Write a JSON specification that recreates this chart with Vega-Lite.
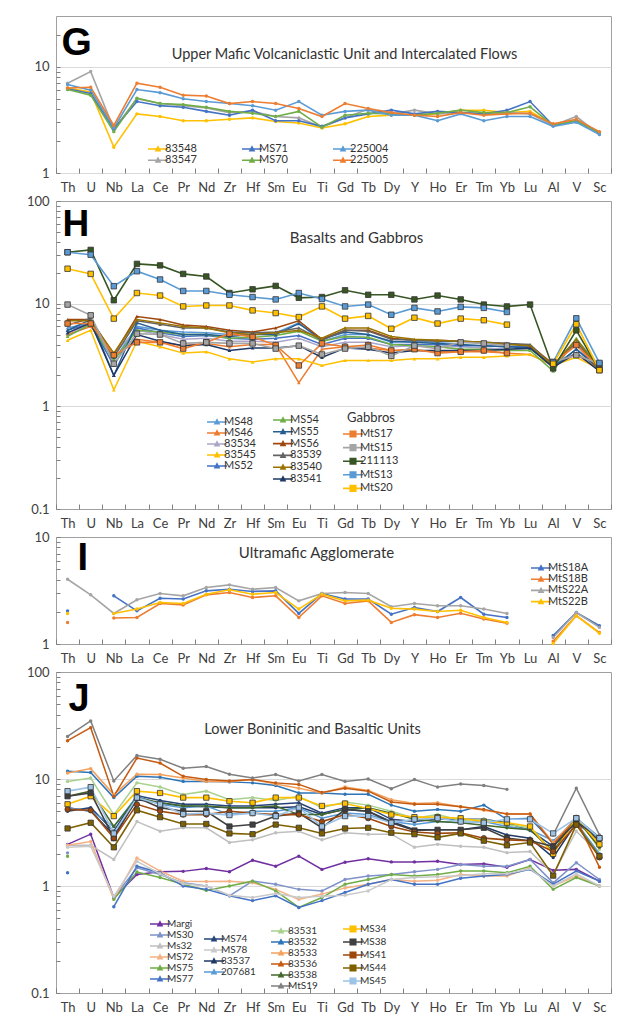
{
"$schema": "https://vega.github.io/schema/vega-lite/v6.json",
"padding": {"left": 25, "top": 15, "right": 5, "bottom": 5},
"autosize": {"type": "pad"},
"background": "white",
"bounds": "flush",
"spacing": 28,
"resolve": {"scale": {"color": "independent", "shape": "independent"}, "legend": {"color": "independent"}},
"datasets": {
"G": [
{"s":"83548","e":"Th","v":6.3},{"s":"83548","e":"U","v":5.8},{"s":"83548","e":"Nb","v":1.75},{"s":"83548","e":"La","v":3.6},{"s":"83548","e":"Ce","v":3.4},{"s":"83548","e":"Pr","v":3.1},{"s":"83548","e":"Nd","v":3.1},{"s":"83548","e":"Zr","v":3.2},{"s":"83548","e":"Hf","v":3.3},{"s":"83548","e":"Sm","v":3.05},{"s":"83548","e":"Eu","v":2.95},{"s":"83548","e":"Ti","v":2.65},{"s":"83548","e":"Gd","v":2.9},{"s":"83548","e":"Tb","v":3.4},{"s":"83548","e":"Dy","v":3.5},{"s":"83548","e":"Y","v":3.5},{"s":"83548","e":"Ho","v":3.6},{"s":"83548","e":"Er","v":3.9},{"s":"83548","e":"Tm","v":3.9},{"s":"83548","e":"Yb","v":3.7},{"s":"83548","e":"Lu","v":3.8},{"s":"83548","e":"Al","v":2.85},{"s":"83548","e":"V","v":3.1},{"s":"83548","e":"Sc","v":2.4},
{"s":"83547","e":"Th","v":7.0},{"s":"83547","e":"U","v":9.0},{"s":"83547","e":"Nb","v":2.6},{"s":"83547","e":"La","v":5.0},{"s":"83547","e":"Ce","v":4.5},{"s":"83547","e":"Pr","v":4.3},{"s":"83547","e":"Nd","v":4.1},{"s":"83547","e":"Zr","v":3.7},{"s":"83547","e":"Hf","v":3.8},{"s":"83547","e":"Sm","v":3.4},{"s":"83547","e":"Eu","v":3.3},{"s":"83547","e":"Ti","v":2.7},{"s":"83547","e":"Gd","v":3.3},{"s":"83547","e":"Tb","v":4.0},{"s":"83547","e":"Dy","v":3.6},{"s":"83547","e":"Y","v":3.9},{"s":"83547","e":"Ho","v":3.6},{"s":"83547","e":"Er","v":3.7},{"s":"83547","e":"Tm","v":3.6},{"s":"83547","e":"Yb","v":3.7},{"s":"83547","e":"Lu","v":3.6},{"s":"83547","e":"Al","v":2.8},{"s":"83547","e":"V","v":3.4},{"s":"83547","e":"Sc","v":2.3},
{"s":"MS71","e":"Th","v":6.2},{"s":"MS71","e":"U","v":5.6},{"s":"MS71","e":"Nb","v":2.6},{"s":"MS71","e":"La","v":4.7},{"s":"MS71","e":"Ce","v":4.3},{"s":"MS71","e":"Pr","v":4.15},{"s":"MS71","e":"Nd","v":3.8},{"s":"MS71","e":"Zr","v":3.5},{"s":"MS71","e":"Hf","v":3.9},{"s":"MS71","e":"Sm","v":3.1},{"s":"MS71","e":"Eu","v":3.1},{"s":"MS71","e":"Ti","v":2.75},{"s":"MS71","e":"Gd","v":3.3},{"s":"MS71","e":"Tb","v":3.6},{"s":"MS71","e":"Dy","v":3.9},{"s":"MS71","e":"Y","v":3.6},{"s":"MS71","e":"Ho","v":3.8},{"s":"MS71","e":"Er","v":3.7},{"s":"MS71","e":"Tm","v":3.6},{"s":"MS71","e":"Yb","v":3.9},{"s":"MS71","e":"Lu","v":4.7},{"s":"MS71","e":"Al","v":2.8},{"s":"MS71","e":"V","v":3.1},{"s":"MS71","e":"Sc","v":2.4},
{"s":"MS70","e":"Th","v":6.1},{"s":"MS70","e":"U","v":5.4},{"s":"MS70","e":"Nb","v":2.45},{"s":"MS70","e":"La","v":5.05},{"s":"MS70","e":"Ce","v":4.5},{"s":"MS70","e":"Pr","v":4.4},{"s":"MS70","e":"Nd","v":4.15},{"s":"MS70","e":"Zr","v":3.8},{"s":"MS70","e":"Hf","v":3.65},{"s":"MS70","e":"Sm","v":3.4},{"s":"MS70","e":"Eu","v":3.8},{"s":"MS70","e":"Ti","v":2.7},{"s":"MS70","e":"Gd","v":3.5},{"s":"MS70","e":"Tb","v":3.65},{"s":"MS70","e":"Dy","v":3.6},{"s":"MS70","e":"Y","v":3.5},{"s":"MS70","e":"Ho","v":3.65},{"s":"MS70","e":"Er","v":3.9},{"s":"MS70","e":"Tm","v":3.7},{"s":"MS70","e":"Yb","v":3.7},{"s":"MS70","e":"Lu","v":4.2},{"s":"MS70","e":"Al","v":2.8},{"s":"MS70","e":"V","v":3.1},{"s":"MS70","e":"Sc","v":2.4},
{"s":"225004","e":"Th","v":6.8},{"s":"225004","e":"U","v":6.0},{"s":"225004","e":"Nb","v":2.65},{"s":"225004","e":"La","v":6.1},{"s":"225004","e":"Ce","v":5.7},{"s":"225004","e":"Pr","v":5.0},{"s":"225004","e":"Nd","v":4.7},{"s":"225004","e":"Zr","v":4.5},{"s":"225004","e":"Hf","v":4.3},{"s":"225004","e":"Sm","v":3.9},{"s":"225004","e":"Eu","v":4.7},{"s":"225004","e":"Ti","v":3.5},{"s":"225004","e":"Gd","v":3.8},{"s":"225004","e":"Tb","v":3.9},{"s":"225004","e":"Dy","v":3.5},{"s":"225004","e":"Y","v":3.5},{"s":"225004","e":"Ho","v":3.1},{"s":"225004","e":"Er","v":3.6},{"s":"225004","e":"Tm","v":3.1},{"s":"225004","e":"Yb","v":3.4},{"s":"225004","e":"Lu","v":3.4},{"s":"225004","e":"Al","v":2.75},{"s":"225004","e":"V","v":3.0},{"s":"225004","e":"Sc","v":2.3},
{"s":"225005","e":"Th","v":6.3},{"s":"225005","e":"U","v":6.4},{"s":"225005","e":"Nb","v":2.8},{"s":"225005","e":"La","v":7.0},{"s":"225005","e":"Ce","v":6.4},{"s":"225005","e":"Pr","v":5.4},{"s":"225005","e":"Nd","v":5.3},{"s":"225005","e":"Zr","v":4.5},{"s":"225005","e":"Hf","v":4.7},{"s":"225005","e":"Sm","v":4.5},{"s":"225005","e":"Eu","v":4.05},{"s":"225005","e":"Ti","v":3.4},{"s":"225005","e":"Gd","v":4.5},{"s":"225005","e":"Tb","v":4.05},{"s":"225005","e":"Dy","v":3.7},{"s":"225005","e":"Y","v":3.5},{"s":"225005","e":"Ho","v":3.4},{"s":"225005","e":"Er","v":3.7},{"s":"225005","e":"Tm","v":3.5},{"s":"225005","e":"Yb","v":3.6},{"s":"225005","e":"Lu","v":3.65},{"s":"225005","e":"Al","v":2.9},{"s":"225005","e":"V","v":3.2},{"s":"225005","e":"Sc","v":2.45}
],
"H": [
{"s":"MS48","e":"Th","v":5.8},{"s":"MS48","e":"U","v":6.5},{"s":"MS48","e":"Nb","v":2.8},{"s":"MS48","e":"La","v":6.0},{"s":"MS48","e":"Ce","v":5.5},{"s":"MS48","e":"Pr","v":5.3},{"s":"MS48","e":"Nd","v":5.2},{"s":"MS48","e":"Zr","v":5.0},{"s":"MS48","e":"Hf","v":5.0},{"s":"MS48","e":"Sm","v":5.2},{"s":"MS48","e":"Eu","v":6.5},{"s":"MS48","e":"Ti","v":4.3},{"s":"MS48","e":"Gd","v":5.0},{"s":"MS48","e":"Tb","v":5.0},{"s":"MS48","e":"Dy","v":4.2},{"s":"MS48","e":"Y","v":4.3},{"s":"MS48","e":"Ho","v":4.2},{"s":"MS48","e":"Er","v":4.3},{"s":"MS48","e":"Tm","v":4.1},{"s":"MS48","e":"Yb","v":4.0},{"s":"MS48","e":"Lu","v":3.9},{"s":"MS48","e":"Al","v":2.5},{"s":"MS48","e":"V","v":4.5},{"s":"MS48","e":"Sc","v":2.5},
{"s":"MS46","e":"Th","v":5.0},{"s":"MS46","e":"U","v":6.0},{"s":"MS46","e":"Nb","v":3.0},{"s":"MS46","e":"La","v":4.5},{"s":"MS46","e":"Ce","v":4.2},{"s":"MS46","e":"Pr","v":3.9},{"s":"MS46","e":"Nd","v":4.1},{"s":"MS46","e":"Zr","v":3.8},{"s":"MS46","e":"Hf","v":4.0},{"s":"MS46","e":"Sm","v":4.0},{"s":"MS46","e":"Eu","v":1.7},{"s":"MS46","e":"Ti","v":3.6},{"s":"MS46","e":"Gd","v":3.8},{"s":"MS46","e":"Tb","v":3.7},{"s":"MS46","e":"Dy","v":3.5},{"s":"MS46","e":"Y","v":3.5},{"s":"MS46","e":"Ho","v":3.4},{"s":"MS46","e":"Er","v":3.4},{"s":"MS46","e":"Tm","v":3.4},{"s":"MS46","e":"Yb","v":3.3},{"s":"MS46","e":"Lu","v":3.2},{"s":"MS46","e":"Al","v":2.5},{"s":"MS46","e":"V","v":3.2},{"s":"MS46","e":"Sc","v":2.3},
{"s":"83534","e":"Th","v":5.2},{"s":"83534","e":"U","v":6.2},{"s":"83534","e":"Nb","v":3.3},{"s":"83534","e":"La","v":5.5},{"s":"83534","e":"Ce","v":5.0},{"s":"83534","e":"Pr","v":4.5},{"s":"83534","e":"Nd","v":4.6},{"s":"83534","e":"Zr","v":4.3},{"s":"83534","e":"Hf","v":4.3},{"s":"83534","e":"Sm","v":4.2},{"s":"83534","e":"Eu","v":4.6},{"s":"83534","e":"Ti","v":3.8},{"s":"83534","e":"Gd","v":4.2},{"s":"83534","e":"Tb","v":4.2},{"s":"83534","e":"Dy","v":3.8},{"s":"83534","e":"Y","v":3.9},{"s":"83534","e":"Ho","v":3.8},{"s":"83534","e":"Er","v":3.8},{"s":"83534","e":"Tm","v":3.7},{"s":"83534","e":"Yb","v":3.6},{"s":"83534","e":"Lu","v":3.6},{"s":"83534","e":"Al","v":2.6},{"s":"83534","e":"V","v":3.3},{"s":"83534","e":"Sc","v":2.4},
{"s":"83545","e":"Th","v":4.4},{"s":"83545","e":"U","v":5.5},{"s":"83545","e":"Nb","v":1.45},{"s":"83545","e":"La","v":4.3},{"s":"83545","e":"Ce","v":3.8},{"s":"83545","e":"Pr","v":3.3},{"s":"83545","e":"Nd","v":3.4},{"s":"83545","e":"Zr","v":2.9},{"s":"83545","e":"Hf","v":2.7},{"s":"83545","e":"Sm","v":2.9},{"s":"83545","e":"Eu","v":2.9},{"s":"83545","e":"Ti","v":2.5},{"s":"83545","e":"Gd","v":2.8},{"s":"83545","e":"Tb","v":2.8},{"s":"83545","e":"Dy","v":2.8},{"s":"83545","e":"Y","v":2.9},{"s":"83545","e":"Ho","v":2.9},{"s":"83545","e":"Er","v":3.0},{"s":"83545","e":"Tm","v":3.0},{"s":"83545","e":"Yb","v":3.1},{"s":"83545","e":"Lu","v":3.2},{"s":"83545","e":"Al","v":2.5},{"s":"83545","e":"V","v":3.0},{"s":"83545","e":"Sc","v":2.3},
{"s":"MS52","e":"Th","v":5.5},{"s":"MS52","e":"U","v":6.4},{"s":"MS52","e":"Nb","v":2.5},{"s":"MS52","e":"La","v":5.8},{"s":"MS52","e":"Ce","v":5.2},{"s":"MS52","e":"Pr","v":4.8},{"s":"MS52","e":"Nd","v":4.9},{"s":"MS52","e":"Zr","v":4.6},{"s":"MS52","e":"Hf","v":4.5},{"s":"MS52","e":"Sm","v":4.6},{"s":"MS52","e":"Eu","v":4.9},{"s":"MS52","e":"Ti","v":4.0},{"s":"MS52","e":"Gd","v":4.6},{"s":"MS52","e":"Tb","v":4.6},{"s":"MS52","e":"Dy","v":4.0},{"s":"MS52","e":"Y","v":4.0},{"s":"MS52","e":"Ho","v":4.0},{"s":"MS52","e":"Er","v":3.9},{"s":"MS52","e":"Tm","v":3.9},{"s":"MS52","e":"Yb","v":3.8},{"s":"MS52","e":"Lu","v":3.8},{"s":"MS52","e":"Al","v":2.4},{"s":"MS52","e":"V","v":3.6},{"s":"MS52","e":"Sc","v":2.4},
{"s":"MS54","e":"Th","v":4.8},{"s":"MS54","e":"U","v":6.3},{"s":"MS54","e":"Nb","v":2.8},{"s":"MS54","e":"La","v":5.5},{"s":"MS54","e":"Ce","v":5.3},{"s":"MS54","e":"Pr","v":5.0},{"s":"MS54","e":"Nd","v":5.0},{"s":"MS54","e":"Zr","v":4.6},{"s":"MS54","e":"Hf","v":4.7},{"s":"MS54","e":"Sm","v":4.9},{"s":"MS54","e":"Eu","v":5.4},{"s":"MS54","e":"Ti","v":4.3},{"s":"MS54","e":"Gd","v":4.8},{"s":"MS54","e":"Tb","v":4.7},{"s":"MS54","e":"Dy","v":4.0},{"s":"MS54","e":"Y","v":3.9},{"s":"MS54","e":"Ho","v":3.8},{"s":"MS54","e":"Er","v":3.6},{"s":"MS54","e":"Tm","v":3.6},{"s":"MS54","e":"Yb","v":3.5},{"s":"MS54","e":"Lu","v":3.5},{"s":"MS54","e":"Al","v":2.2},{"s":"MS54","e":"V","v":4.6},{"s":"MS54","e":"Sc","v":2.3},
{"s":"MS55","e":"Th","v":5.5},{"s":"MS55","e":"U","v":7.0},{"s":"MS55","e":"Nb","v":2.0},{"s":"MS55","e":"La","v":6.5},{"s":"MS55","e":"Ce","v":5.5},{"s":"MS55","e":"Pr","v":5.0},{"s":"MS55","e":"Nd","v":5.0},{"s":"MS55","e":"Zr","v":4.8},{"s":"MS55","e":"Hf","v":5.0},{"s":"MS55","e":"Sm","v":5.0},{"s":"MS55","e":"Eu","v":6.4},{"s":"MS55","e":"Ti","v":4.5},{"s":"MS55","e":"Gd","v":5.3},{"s":"MS55","e":"Tb","v":5.0},{"s":"MS55","e":"Dy","v":4.3},{"s":"MS55","e":"Y","v":4.2},{"s":"MS55","e":"Ho","v":4.1},{"s":"MS55","e":"Er","v":4.0},{"s":"MS55","e":"Tm","v":3.9},{"s":"MS55","e":"Yb","v":3.8},{"s":"MS55","e":"Lu","v":3.7},{"s":"MS55","e":"Al","v":2.4},{"s":"MS55","e":"V","v":3.6},{"s":"MS55","e":"Sc","v":2.3},
{"s":"MS56","e":"Th","v":7.0},{"s":"MS56","e":"U","v":7.0},{"s":"MS56","e":"Nb","v":3.2},{"s":"MS56","e":"La","v":7.5},{"s":"MS56","e":"Ce","v":7.0},{"s":"MS56","e":"Pr","v":6.2},{"s":"MS56","e":"Nd","v":6.0},{"s":"MS56","e":"Zr","v":5.5},{"s":"MS56","e":"Hf","v":5.3},{"s":"MS56","e":"Sm","v":5.8},{"s":"MS56","e":"Eu","v":6.8},{"s":"MS56","e":"Ti","v":4.5},{"s":"MS56","e":"Gd","v":5.5},{"s":"MS56","e":"Tb","v":5.5},{"s":"MS56","e":"Dy","v":4.6},{"s":"MS56","e":"Y","v":4.4},{"s":"MS56","e":"Ho","v":4.4},{"s":"MS56","e":"Er","v":4.3},{"s":"MS56","e":"Tm","v":4.2},{"s":"MS56","e":"Yb","v":4.1},{"s":"MS56","e":"Lu","v":3.9},{"s":"MS56","e":"Al","v":2.6},{"s":"MS56","e":"V","v":4.0},{"s":"MS56","e":"Sc","v":2.3},
{"s":"83539","e":"Th","v":6.2},{"s":"83539","e":"U","v":7.2},{"s":"83539","e":"Nb","v":3.0},{"s":"83539","e":"La","v":6.8},{"s":"83539","e":"Ce","v":6.3},{"s":"83539","e":"Pr","v":5.8},{"s":"83539","e":"Nd","v":5.8},{"s":"83539","e":"Zr","v":5.3},{"s":"83539","e":"Hf","v":5.2},{"s":"83539","e":"Sm","v":5.3},{"s":"83539","e":"Eu","v":5.8},{"s":"83539","e":"Ti","v":4.4},{"s":"83539","e":"Gd","v":5.5},{"s":"83539","e":"Tb","v":5.4},{"s":"83539","e":"Dy","v":4.5},{"s":"83539","e":"Y","v":4.4},{"s":"83539","e":"Ho","v":4.3},{"s":"83539","e":"Er","v":4.3},{"s":"83539","e":"Tm","v":4.2},{"s":"83539","e":"Yb","v":4.1},{"s":"83539","e":"Lu","v":4.0},{"s":"83539","e":"Al","v":2.5},{"s":"83539","e":"V","v":4.2},{"s":"83539","e":"Sc","v":2.4},
{"s":"83540","e":"Th","v":6.8},{"s":"83540","e":"U","v":6.8},{"s":"83540","e":"Nb","v":3.3},{"s":"83540","e":"La","v":7.0},{"s":"83540","e":"Ce","v":6.5},{"s":"83540","e":"Pr","v":6.0},{"s":"83540","e":"Nd","v":5.8},{"s":"83540","e":"Zr","v":5.2},{"s":"83540","e":"Hf","v":5.0},{"s":"83540","e":"Sm","v":5.2},{"s":"83540","e":"Eu","v":5.5},{"s":"83540","e":"Ti","v":4.6},{"s":"83540","e":"Gd","v":5.8},{"s":"83540","e":"Tb","v":5.8},{"s":"83540","e":"Dy","v":4.8},{"s":"83540","e":"Y","v":4.5},{"s":"83540","e":"Ho","v":4.4},{"s":"83540","e":"Er","v":4.3},{"s":"83540","e":"Tm","v":4.2},{"s":"83540","e":"Yb","v":4.0},{"s":"83540","e":"Lu","v":3.9},{"s":"83540","e":"Al","v":2.5},{"s":"83540","e":"V","v":4.5},{"s":"83540","e":"Sc","v":2.3},
{"s":"83541","e":"Th","v":5.2},{"s":"83541","e":"U","v":6.5},{"s":"83541","e":"Nb","v":2.0},{"s":"83541","e":"La","v":5.0},{"s":"83541","e":"Ce","v":4.3},{"s":"83541","e":"Pr","v":3.9},{"s":"83541","e":"Nd","v":4.0},{"s":"83541","e":"Zr","v":3.5},{"s":"83541","e":"Hf","v":3.7},{"s":"83541","e":"Sm","v":3.7},{"s":"83541","e":"Eu","v":3.9},{"s":"83541","e":"Ti","v":3.0},{"s":"83541","e":"Gd","v":3.7},{"s":"83541","e":"Tb","v":3.6},{"s":"83541","e":"Dy","v":3.3},{"s":"83541","e":"Y","v":3.5},{"s":"83541","e":"Ho","v":3.5},{"s":"83541","e":"Er","v":3.5},{"s":"83541","e":"Tm","v":3.5},{"s":"83541","e":"Yb","v":3.6},{"s":"83541","e":"Lu","v":3.7},{"s":"83541","e":"Al","v":2.4},{"s":"83541","e":"V","v":3.3},{"s":"83541","e":"Sc","v":2.2},
{"s":"MtS17","e":"Th","v":6.4},{"s":"MtS17","e":"U","v":6.4},{"s":"MtS17","e":"Nb","v":3.15},{"s":"MtS17","e":"La","v":4.2},{"s":"MtS17","e":"Ce","v":4.2},{"s":"MtS17","e":"Pr","v":3.65},{"s":"MtS17","e":"Nd","v":4.2},{"s":"MtS17","e":"Zr","v":5.1},{"s":"MtS17","e":"Hf","v":4.75},{"s":"MtS17","e":"Sm","v":3.95},{"s":"MtS17","e":"Eu","v":2.5},{"s":"MtS17","e":"Ti","v":4.1},{"s":"MtS17","e":"Gd","v":3.8},{"s":"MtS17","e":"Tb","v":3.95},{"s":"MtS17","e":"Dy","v":3.5},{"s":"MtS17","e":"Y","v":3.6},{"s":"MtS17","e":"Ho","v":3.3},{"s":"MtS17","e":"Er","v":3.4},{"s":"MtS17","e":"Tm","v":3.5},{"s":"MtS17","e":"Yb","v":3.3},{"s":"MtS17","e":"Lu","v":null},{"s":"MtS17","e":"Al","v":2.6},{"s":"MtS17","e":"V","v":3.95},{"s":"MtS17","e":"Sc","v":2.35},
{"s":"MtS15","e":"Th","v":9.8},{"s":"MtS15","e":"U","v":7.7},{"s":"MtS15","e":"Nb","v":2.6},{"s":"MtS15","e":"La","v":5.1},{"s":"MtS15","e":"Ce","v":5.0},{"s":"MtS15","e":"Pr","v":4.1},{"s":"MtS15","e":"Nd","v":4.2},{"s":"MtS15","e":"Zr","v":4.1},{"s":"MtS15","e":"Hf","v":4.1},{"s":"MtS15","e":"Sm","v":3.65},{"s":"MtS15","e":"Eu","v":3.9},{"s":"MtS15","e":"Ti","v":3.2},{"s":"MtS15","e":"Gd","v":3.65},{"s":"MtS15","e":"Tb","v":3.8},{"s":"MtS15","e":"Dy","v":3.1},{"s":"MtS15","e":"Y","v":3.9},{"s":"MtS15","e":"Ho","v":3.65},{"s":"MtS15","e":"Er","v":4.2},{"s":"MtS15","e":"Tm","v":4.1},{"s":"MtS15","e":"Yb","v":3.9},{"s":"MtS15","e":"Lu","v":null},{"s":"MtS15","e":"Al","v":2.7},{"s":"MtS15","e":"V","v":3.15},{"s":"MtS15","e":"Sc","v":2.6},
{"s":"211113","e":"Th","v":31.7},{"s":"211113","e":"U","v":33.4},{"s":"211113","e":"Nb","v":10.8},{"s":"211113","e":"La","v":24.4},{"s":"211113","e":"Ce","v":23.6},{"s":"211113","e":"Pr","v":19.5},{"s":"211113","e":"Nd","v":18.4},{"s":"211113","e":"Zr","v":12.7},{"s":"211113","e":"Hf","v":13.8},{"s":"211113","e":"Sm","v":14.9},{"s":"211113","e":"Eu","v":11.4},{"s":"211113","e":"Ti","v":11.6},{"s":"211113","e":"Gd","v":13.5},{"s":"211113","e":"Tb","v":12.2},{"s":"211113","e":"Dy","v":12.2},{"s":"211113","e":"Y","v":11.0},{"s":"211113","e":"Ho","v":12.0},{"s":"211113","e":"Er","v":11.0},{"s":"211113","e":"Tm","v":9.8},{"s":"211113","e":"Yb","v":9.4},{"s":"211113","e":"Lu","v":9.8},{"s":"211113","e":"Al","v":2.34},{"s":"211113","e":"V","v":5.5},{"s":"211113","e":"Sc","v":2.25},
{"s":"MtS13","e":"Th","v":31.7},{"s":"MtS13","e":"U","v":30.0},{"s":"MtS13","e":"Nb","v":14.8},{"s":"MtS13","e":"La","v":20.7},{"s":"MtS13","e":"Ce","v":17.2},{"s":"MtS13","e":"Pr","v":13.3},{"s":"MtS13","e":"Nd","v":13.3},{"s":"MtS13","e":"Zr","v":12.2},{"s":"MtS13","e":"Hf","v":11.6},{"s":"MtS13","e":"Sm","v":11.0},{"s":"MtS13","e":"Eu","v":12.7},{"s":"MtS13","e":"Ti","v":11.1},{"s":"MtS13","e":"Gd","v":9.4},{"s":"MtS13","e":"Tb","v":9.8},{"s":"MtS13","e":"Dy","v":7.8},{"s":"MtS13","e":"Y","v":9.1},{"s":"MtS13","e":"Ho","v":8.4},{"s":"MtS13","e":"Er","v":9.3},{"s":"MtS13","e":"Tm","v":9.1},{"s":"MtS13","e":"Yb","v":8.3},{"s":"MtS13","e":"Lu","v":null},{"s":"MtS13","e":"Al","v":2.7},{"s":"MtS13","e":"V","v":7.2},{"s":"MtS13","e":"Sc","v":2.65},
{"s":"MtS20","e":"Th","v":21.9},{"s":"MtS20","e":"U","v":19.5},{"s":"MtS20","e":"Nb","v":7.15},{"s":"MtS20","e":"La","v":12.7},{"s":"MtS20","e":"Ce","v":12.0},{"s":"MtS20","e":"Pr","v":9.4},{"s":"MtS20","e":"Nd","v":9.6},{"s":"MtS20","e":"Zr","v":9.6},{"s":"MtS20","e":"Hf","v":8.6},{"s":"MtS20","e":"Sm","v":8.1},{"s":"MtS20","e":"Eu","v":7.4},{"s":"MtS20","e":"Ti","v":9.4},{"s":"MtS20","e":"Gd","v":7.15},{"s":"MtS20","e":"Tb","v":7.6},{"s":"MtS20","e":"Dy","v":5.7},{"s":"MtS20","e":"Y","v":7.3},{"s":"MtS20","e":"Ho","v":6.4},{"s":"MtS20","e":"Er","v":7.15},{"s":"MtS20","e":"Tm","v":6.9},{"s":"MtS20","e":"Yb","v":6.25},{"s":"MtS20","e":"Lu","v":null},{"s":"MtS20","e":"Al","v":2.6},{"s":"MtS20","e":"V","v":6.3},{"s":"MtS20","e":"Sc","v":2.25}
],
"I": [
{"s":"MtS18A","e":"Th","v":2.04},{"s":"MtS18A","e":"U","v":null},{"s":"MtS18A","e":"Nb","v":2.82},{"s":"MtS18A","e":"La","v":2.04},{"s":"MtS18A","e":"Ce","v":2.68},{"s":"MtS18A","e":"Pr","v":2.63},{"s":"MtS18A","e":"Nd","v":3.14},{"s":"MtS18A","e":"Zr","v":3.25},{"s":"MtS18A","e":"Hf","v":3.1},{"s":"MtS18A","e":"Sm","v":3.14},{"s":"MtS18A","e":"Eu","v":1.93},{"s":"MtS18A","e":"Ti","v":2.96},{"s":"MtS18A","e":"Gd","v":2.63},{"s":"MtS18A","e":"Tb","v":2.63},{"s":"MtS18A","e":"Dy","v":1.9},{"s":"MtS18A","e":"Y","v":2.19},{"s":"MtS18A","e":"Ho","v":2.01},{"s":"MtS18A","e":"Er","v":2.72},{"s":"MtS18A","e":"Tm","v":1.9},{"s":"MtS18A","e":"Yb","v":1.77},{"s":"MtS18A","e":"Lu","v":null},{"s":"MtS18A","e":"Al","v":1.2},{"s":"MtS18A","e":"V","v":1.97},{"s":"MtS18A","e":"Sc","v":1.48},
{"s":"MtS18B","e":"Th","v":1.59},{"s":"MtS18B","e":"U","v":null},{"s":"MtS18B","e":"Nb","v":1.75},{"s":"MtS18B","e":"La","v":1.77},{"s":"MtS18B","e":"Ce","v":2.39},{"s":"MtS18B","e":"Pr","v":2.32},{"s":"MtS18B","e":"Nd","v":2.88},{"s":"MtS18B","e":"Zr","v":3.03},{"s":"MtS18B","e":"Hf","v":2.72},{"s":"MtS18B","e":"Sm","v":2.82},{"s":"MtS18B","e":"Eu","v":1.77},{"s":"MtS18B","e":"Ti","v":2.82},{"s":"MtS18B","e":"Gd","v":2.39},{"s":"MtS18B","e":"Tb","v":2.53},{"s":"MtS18B","e":"Dy","v":1.59},{"s":"MtS18B","e":"Y","v":1.88},{"s":"MtS18B","e":"Ho","v":1.77},{"s":"MtS18B","e":"Er","v":1.94},{"s":"MtS18B","e":"Tm","v":1.71},{"s":"MtS18B","e":"Yb","v":1.56},{"s":"MtS18B","e":"Lu","v":null},{"s":"MtS18B","e":"Al","v":1.06},{"s":"MtS18B","e":"V","v":1.84},{"s":"MtS18B","e":"Sc","v":1.28},
{"s":"MtS22A","e":"Th","v":4.03},{"s":"MtS22A","e":"U","v":2.88},{"s":"MtS22A","e":"Nb","v":1.93},{"s":"MtS22A","e":"La","v":2.59},{"s":"MtS22A","e":"Ce","v":2.96},{"s":"MtS22A","e":"Pr","v":2.82},{"s":"MtS22A","e":"Nd","v":3.37},{"s":"MtS22A","e":"Zr","v":3.57},{"s":"MtS22A","e":"Hf","v":3.25},{"s":"MtS22A","e":"Sm","v":3.37},{"s":"MtS22A","e":"Eu","v":2.53},{"s":"MtS22A","e":"Ti","v":2.96},{"s":"MtS22A","e":"Gd","v":3.03},{"s":"MtS22A","e":"Tb","v":2.96},{"s":"MtS22A","e":"Dy","v":2.23},{"s":"MtS22A","e":"Y","v":2.39},{"s":"MtS22A","e":"Ho","v":2.28},{"s":"MtS22A","e":"Er","v":2.28},{"s":"MtS22A","e":"Tm","v":2.12},{"s":"MtS22A","e":"Yb","v":1.93},{"s":"MtS22A","e":"Lu","v":null},{"s":"MtS22A","e":"Al","v":1.15},{"s":"MtS22A","e":"V","v":1.97},{"s":"MtS22A","e":"Sc","v":1.43},
{"s":"MtS22B","e":"Th","v":1.93},{"s":"MtS22B","e":"U","v":null},{"s":"MtS22B","e":"Nb","v":1.93},{"s":"MtS22B","e":"La","v":2.12},{"s":"MtS22B","e":"Ce","v":2.44},{"s":"MtS22B","e":"Pr","v":2.39},{"s":"MtS22B","e":"Nd","v":2.92},{"s":"MtS22B","e":"Zr","v":3.21},{"s":"MtS22B","e":"Hf","v":2.92},{"s":"MtS22B","e":"Sm","v":3.03},{"s":"MtS22B","e":"Eu","v":2.12},{"s":"MtS22B","e":"Ti","v":2.92},{"s":"MtS22B","e":"Gd","v":2.53},{"s":"MtS22B","e":"Tb","v":2.57},{"s":"MtS22B","e":"Dy","v":2.16},{"s":"MtS22B","e":"Y","v":2.12},{"s":"MtS22B","e":"Ho","v":2.01},{"s":"MtS22B","e":"Er","v":2.07},{"s":"MtS22B","e":"Tm","v":1.77},{"s":"MtS22B","e":"Yb","v":1.59},{"s":"MtS22B","e":"Lu","v":null},{"s":"MtS22B","e":"Al","v":1.01},{"s":"MtS22B","e":"V","v":1.84},{"s":"MtS22B","e":"Sc","v":1.26}
],
"J": [
{"s":"Margi","e":"Th","v":2.45},{"s":"Margi","e":"U","v":3.05},{"s":"Margi","e":"Nb","v":0.78},{"s":"Margi","e":"La","v":1.28},{"s":"Margi","e":"Ce","v":1.36},{"s":"Margi","e":"Pr","v":1.37},{"s":"Margi","e":"Nd","v":1.46},{"s":"Margi","e":"Zr","v":1.36},{"s":"Margi","e":"Hf","v":1.74},{"s":"Margi","e":"Sm","v":1.53},{"s":"Margi","e":"Eu","v":1.9},{"s":"Margi","e":"Ti","v":1.43},{"s":"Margi","e":"Gd","v":1.67},{"s":"Margi","e":"Tb","v":1.8},{"s":"Margi","e":"Dy","v":1.68},{"s":"Margi","e":"Y","v":1.68},{"s":"Margi","e":"Ho","v":1.7},{"s":"Margi","e":"Er","v":1.59},{"s":"Margi","e":"Tm","v":1.61},{"s":"Margi","e":"Yb","v":1.5},{"s":"Margi","e":"Lu","v":1.77},{"s":"Margi","e":"Al","v":1.4},{"s":"Margi","e":"V","v":1.43},{"s":"Margi","e":"Sc","v":1.11},
{"s":"MS30","e":"Th","v":2.04},{"s":"MS30","e":"U","v":null},{"s":"MS30","e":"Nb","v":0.78},{"s":"MS30","e":"La","v":1.48},{"s":"MS30","e":"Ce","v":1.28},{"s":"MS30","e":"Pr","v":1.07},{"s":"MS30","e":"Nd","v":1.0},{"s":"MS30","e":"Zr","v":0.81},{"s":"MS30","e":"Hf","v":1.11},{"s":"MS30","e":"Sm","v":1.04},{"s":"MS30","e":"Eu","v":0.93},{"s":"MS30","e":"Ti","v":0.9},{"s":"MS30","e":"Gd","v":1.15},{"s":"MS30","e":"Tb","v":1.24},{"s":"MS30","e":"Dy","v":1.28},{"s":"MS30","e":"Y","v":1.36},{"s":"MS30","e":"Ho","v":1.43},{"s":"MS30","e":"Er","v":1.59},{"s":"MS30","e":"Tm","v":1.53},{"s":"MS30","e":"Yb","v":1.53},{"s":"MS30","e":"Lu","v":1.77},{"s":"MS30","e":"Al","v":1.07},{"s":"MS30","e":"V","v":1.65},{"s":"MS30","e":"Sc","v":1.15},
{"s":"Ms32","e":"Th","v":2.4},{"s":"Ms32","e":"U","v":2.4},{"s":"Ms32","e":"Nb","v":1.77},{"s":"Ms32","e":"La","v":4.0},{"s":"Ms32","e":"Ce","v":3.25},{"s":"Ms32","e":"Pr","v":3.5},{"s":"Ms32","e":"Nd","v":3.5},{"s":"Ms32","e":"Zr","v":2.55},{"s":"Ms32","e":"Hf","v":2.7},{"s":"Ms32","e":"Sm","v":3.15},{"s":"Ms32","e":"Eu","v":3.25},{"s":"Ms32","e":"Ti","v":2.7},{"s":"Ms32","e":"Gd","v":3.15},{"s":"Ms32","e":"Tb","v":3.05},{"s":"Ms32","e":"Dy","v":3.05},{"s":"Ms32","e":"Y","v":2.3},{"s":"Ms32","e":"Ho","v":2.45},{"s":"Ms32","e":"Er","v":2.35},{"s":"Ms32","e":"Tm","v":2.3},{"s":"Ms32","e":"Yb","v":2.05},{"s":"Ms32","e":"Lu","v":2.1},{"s":"Ms32","e":"Al","v":1.3},{"s":"Ms32","e":"V","v":3.25},{"s":"Ms32","e":"Sc","v":2.0},
{"s":"MS72","e":"Th","v":2.4},{"s":"MS72","e":"U","v":2.6},{"s":"MS72","e":"Nb","v":0.75},{"s":"MS72","e":"La","v":1.83},{"s":"MS72","e":"Ce","v":1.38},{"s":"MS72","e":"Pr","v":1.11},{"s":"MS72","e":"Nd","v":1.1},{"s":"MS72","e":"Zr","v":1.11},{"s":"MS72","e":"Hf","v":1.07},{"s":"MS72","e":"Sm","v":0.93},{"s":"MS72","e":"Eu","v":0.75},{"s":"MS72","e":"Ti","v":0.84},{"s":"MS72","e":"Gd","v":0.96},{"s":"MS72","e":"Tb","v":1.04},{"s":"MS72","e":"Dy","v":1.15},{"s":"MS72","e":"Y","v":1.11},{"s":"MS72","e":"Ho","v":1.13},{"s":"MS72","e":"Er","v":1.28},{"s":"MS72","e":"Tm","v":1.24},{"s":"MS72","e":"Yb","v":1.24},{"s":"MS72","e":"Lu","v":1.48},{"s":"MS72","e":"Al","v":1.0},{"s":"MS72","e":"V","v":1.24},{"s":"MS72","e":"Sc","v":1.0},
{"s":"MS75","e":"Th","v":1.9},{"s":"MS75","e":"U","v":null},{"s":"MS75","e":"Nb","v":0.75},{"s":"MS75","e":"La","v":1.35},{"s":"MS75","e":"Ce","v":1.2},{"s":"MS75","e":"Pr","v":1.04},{"s":"MS75","e":"Nd","v":0.91},{"s":"MS75","e":"Zr","v":1.0},{"s":"MS75","e":"Hf","v":1.11},{"s":"MS75","e":"Sm","v":0.9},{"s":"MS75","e":"Eu","v":0.63},{"s":"MS75","e":"Ti","v":0.78},{"s":"MS75","e":"Gd","v":1.04},{"s":"MS75","e":"Tb","v":1.15},{"s":"MS75","e":"Dy","v":1.28},{"s":"MS75","e":"Y","v":1.24},{"s":"MS75","e":"Ho","v":1.28},{"s":"MS75","e":"Er","v":1.38},{"s":"MS75","e":"Tm","v":1.38},{"s":"MS75","e":"Yb","v":1.33},{"s":"MS75","e":"Lu","v":1.53},{"s":"MS75","e":"Al","v":0.93},{"s":"MS75","e":"V","v":1.2},{"s":"MS75","e":"Sc","v":1.0},
{"s":"MS77","e":"Th","v":1.33},{"s":"MS77","e":"U","v":null},{"s":"MS77","e":"Nb","v":0.64},{"s":"MS77","e":"La","v":1.53},{"s":"MS77","e":"Ce","v":1.33},{"s":"MS77","e":"Pr","v":1.0},{"s":"MS77","e":"Nd","v":0.93},{"s":"MS77","e":"Zr","v":0.81},{"s":"MS77","e":"Hf","v":0.73},{"s":"MS77","e":"Sm","v":0.81},{"s":"MS77","e":"Eu","v":0.63},{"s":"MS77","e":"Ti","v":0.73},{"s":"MS77","e":"Gd","v":0.87},{"s":"MS77","e":"Tb","v":1.04},{"s":"MS77","e":"Dy","v":1.15},{"s":"MS77","e":"Y","v":1.04},{"s":"MS77","e":"Ho","v":1.04},{"s":"MS77","e":"Er","v":1.18},{"s":"MS77","e":"Tm","v":1.24},{"s":"MS77","e":"Yb","v":1.28},{"s":"MS77","e":"Lu","v":1.43},{"s":"MS77","e":"Al","v":1.04},{"s":"MS77","e":"V","v":1.38},{"s":"MS77","e":"Sc","v":1.11},
{"s":"MS74","e":"Th","v":5.0},{"s":"MS74","e":"U","v":5.4},{"s":"MS74","e":"Nb","v":3.25},{"s":"MS74","e":"La","v":7.0},{"s":"MS74","e":"Ce","v":6.3},{"s":"MS74","e":"Pr","v":5.8},{"s":"MS74","e":"Nd","v":5.8},{"s":"MS74","e":"Zr","v":5.6},{"s":"MS74","e":"Hf","v":5.6},{"s":"MS74","e":"Sm","v":5.8},{"s":"MS74","e":"Eu","v":6.0},{"s":"MS74","e":"Ti","v":4.8},{"s":"MS74","e":"Gd","v":5.4},{"s":"MS74","e":"Tb","v":5.4},{"s":"MS74","e":"Dy","v":4.2},{"s":"MS74","e":"Y","v":4.0},{"s":"MS74","e":"Ho","v":4.2},{"s":"MS74","e":"Er","v":4.2},{"s":"MS74","e":"Tm","v":4.2},{"s":"MS74","e":"Yb","v":3.9},{"s":"MS74","e":"Lu","v":3.3},{"s":"MS74","e":"Al","v":2.35},{"s":"MS74","e":"V","v":4.0},{"s":"MS74","e":"Sc","v":2.65},
{"s":"MS78","e":"Th","v":2.3},{"s":"MS78","e":"U","v":2.35},{"s":"MS78","e":"Nb","v":0.8},{"s":"MS78","e":"La","v":1.7},{"s":"MS78","e":"Ce","v":1.3},{"s":"MS78","e":"Pr","v":1.05},{"s":"MS78","e":"Nd","v":1.0},{"s":"MS78","e":"Zr","v":0.82},{"s":"MS78","e":"Hf","v":0.78},{"s":"MS78","e":"Sm","v":0.85},{"s":"MS78","e":"Eu","v":0.78},{"s":"MS78","e":"Ti","v":0.8},{"s":"MS78","e":"Gd","v":0.82},{"s":"MS78","e":"Tb","v":0.9},{"s":"MS78","e":"Dy","v":1.15},{"s":"MS78","e":"Y","v":1.2},{"s":"MS78","e":"Ho","v":1.22},{"s":"MS78","e":"Er","v":1.25},{"s":"MS78","e":"Tm","v":1.3},{"s":"MS78","e":"Yb","v":1.3},{"s":"MS78","e":"Lu","v":1.45},{"s":"MS78","e":"Al","v":1.0},{"s":"MS78","e":"V","v":1.3},{"s":"MS78","e":"Sc","v":1.0},
{"s":"83537","e":"Th","v":5.4},{"s":"83537","e":"U","v":5.0},{"s":"83537","e":"Nb","v":3.0},{"s":"83537","e":"La","v":6.4},{"s":"83537","e":"Ce","v":6.0},{"s":"83537","e":"Pr","v":5.6},{"s":"83537","e":"Nd","v":5.5},{"s":"83537","e":"Zr","v":5.4},{"s":"83537","e":"Hf","v":5.4},{"s":"83537","e":"Sm","v":5.4},{"s":"83537","e":"Eu","v":5.5},{"s":"83537","e":"Ti","v":4.65},{"s":"83537","e":"Gd","v":5.2},{"s":"83537","e":"Tb","v":5.0},{"s":"83537","e":"Dy","v":4.0},{"s":"83537","e":"Y","v":3.35},{"s":"83537","e":"Ho","v":3.35},{"s":"83537","e":"Er","v":3.35},{"s":"83537","e":"Tm","v":3.6},{"s":"83537","e":"Yb","v":3.0},{"s":"83537","e":"Lu","v":2.8},{"s":"83537","e":"Al","v":1.85},{"s":"83537","e":"V","v":3.9},{"s":"83537","e":"Sc","v":2.65},
{"s":"207681","e":"Th","v":5.4},{"s":"207681","e":"U","v":5.0},{"s":"207681","e":"Nb","v":3.6},{"s":"207681","e":"La","v":6.9},{"s":"207681","e":"Ce","v":5.8},{"s":"207681","e":"Pr","v":5.4},{"s":"207681","e":"Nd","v":5.6},{"s":"207681","e":"Zr","v":4.65},{"s":"207681","e":"Hf","v":5.0},{"s":"207681","e":"Sm","v":5.0},{"s":"207681","e":"Eu","v":5.4},{"s":"207681","e":"Ti","v":4.3},{"s":"207681","e":"Gd","v":4.8},{"s":"207681","e":"Tb","v":4.65},{"s":"207681","e":"Dy","v":4.0},{"s":"207681","e":"Y","v":3.75},{"s":"207681","e":"Ho","v":4.0},{"s":"207681","e":"Er","v":3.9},{"s":"207681","e":"Tm","v":4.0},{"s":"207681","e":"Yb","v":3.6},{"s":"207681","e":"Lu","v":3.35},{"s":"207681","e":"Al","v":2.65},{"s":"207681","e":"V","v":3.9},{"s":"207681","e":"Sc","v":2.0},
{"s":"83531","e":"Th","v":9.5},{"s":"83531","e":"U","v":10.2},{"s":"83531","e":"Nb","v":4.65},{"s":"83531","e":"La","v":9.2},{"s":"83531","e":"Ce","v":8.4},{"s":"83531","e":"Pr","v":7.15},{"s":"83531","e":"Nd","v":7.7},{"s":"83531","e":"Zr","v":6.4},{"s":"83531","e":"Hf","v":6.7},{"s":"83531","e":"Sm","v":6.3},{"s":"83531","e":"Eu","v":6.9},{"s":"83531","e":"Ti","v":5.4},{"s":"83531","e":"Gd","v":6.1},{"s":"83531","e":"Tb","v":5.7},{"s":"83531","e":"Dy","v":5.0},{"s":"83531","e":"Y","v":4.3},{"s":"83531","e":"Ho","v":4.65},{"s":"83531","e":"Er","v":4.1},{"s":"83531","e":"Tm","v":4.2},{"s":"83531","e":"Yb","v":3.75},{"s":"83531","e":"Lu","v":3.5},{"s":"83531","e":"Al","v":2.0},{"s":"83531","e":"V","v":4.5},{"s":"83531","e":"Sc","v":2.2},
{"s":"83532","e":"Th","v":11.8},{"s":"83532","e":"U","v":11.5},{"s":"83532","e":"Nb","v":6.7},{"s":"83532","e":"La","v":10.6},{"s":"83532","e":"Ce","v":10.4},{"s":"83532","e":"Pr","v":9.5},{"s":"83532","e":"Nd","v":9.5},{"s":"83532","e":"Zr","v":9.4},{"s":"83532","e":"Hf","v":9.2},{"s":"83532","e":"Sm","v":8.7},{"s":"83532","e":"Eu","v":7.4},{"s":"83532","e":"Ti","v":7.4},{"s":"83532","e":"Gd","v":7.2},{"s":"83532","e":"Tb","v":7.2},{"s":"83532","e":"Dy","v":5.7},{"s":"83532","e":"Y","v":5.0},{"s":"83532","e":"Ho","v":5.2},{"s":"83532","e":"Er","v":5.0},{"s":"83532","e":"Tm","v":5.7},{"s":"83532","e":"Yb","v":4.2},{"s":"83532","e":"Lu","v":4.3},{"s":"83532","e":"Al","v":2.55},{"s":"83532","e":"V","v":4.3},{"s":"83532","e":"Sc","v":2.85},
{"s":"83533","e":"Th","v":11.4},{"s":"83533","e":"U","v":12.5},{"s":"83533","e":"Nb","v":7.15},{"s":"83533","e":"La","v":11.1},{"s":"83533","e":"Ce","v":11.0},{"s":"83533","e":"Pr","v":10.2},{"s":"83533","e":"Nd","v":9.5},{"s":"83533","e":"Zr","v":9.5},{"s":"83533","e":"Hf","v":9.9},{"s":"83533","e":"Sm","v":9.0},{"s":"83533","e":"Eu","v":8.2},{"s":"83533","e":"Ti","v":7.4},{"s":"83533","e":"Gd","v":8.4},{"s":"83533","e":"Tb","v":7.8},{"s":"83533","e":"Dy","v":6.4},{"s":"83533","e":"Y","v":5.9},{"s":"83533","e":"Ho","v":6.0},{"s":"83533","e":"Er","v":5.5},{"s":"83533","e":"Tm","v":5.1},{"s":"83533","e":"Yb","v":4.7},{"s":"83533","e":"Lu","v":4.7},{"s":"83533","e":"Al","v":2.55},{"s":"83533","e":"V","v":4.3},{"s":"83533","e":"Sc","v":2.3},
{"s":"83536","e":"Th","v":22.8},{"s":"83536","e":"U","v":30.2},{"s":"83536","e":"Nb","v":6.9},{"s":"83536","e":"La","v":15.7},{"s":"83536","e":"Ce","v":14.1},{"s":"83536","e":"Pr","v":10.6},{"s":"83536","e":"Nd","v":9.9},{"s":"83536","e":"Zr","v":9.6},{"s":"83536","e":"Hf","v":9.9},{"s":"83536","e":"Sm","v":9.2},{"s":"83536","e":"Eu","v":8.9},{"s":"83536","e":"Ti","v":7.5},{"s":"83536","e":"Gd","v":8.2},{"s":"83536","e":"Tb","v":7.7},{"s":"83536","e":"Dy","v":6.1},{"s":"83536","e":"Y","v":5.8},{"s":"83536","e":"Ho","v":5.8},{"s":"83536","e":"Er","v":5.5},{"s":"83536","e":"Tm","v":5.2},{"s":"83536","e":"Yb","v":4.7},{"s":"83536","e":"Lu","v":4.7},{"s":"83536","e":"Al","v":2.45},{"s":"83536","e":"V","v":4.2},{"s":"83536","e":"Sc","v":1.5},
{"s":"83538","e":"Th","v":6.9},{"s":"83538","e":"U","v":7.7},{"s":"83538","e":"Nb","v":3.6},{"s":"83538","e":"La","v":6.7},{"s":"83538","e":"Ce","v":6.0},{"s":"83538","e":"Pr","v":5.6},{"s":"83538","e":"Nd","v":5.6},{"s":"83538","e":"Zr","v":5.4},{"s":"83538","e":"Hf","v":5.4},{"s":"83538","e":"Sm","v":5.6},{"s":"83538","e":"Eu","v":4.65},{"s":"83538","e":"Ti","v":4.65},{"s":"83538","e":"Gd","v":5.2},{"s":"83538","e":"Tb","v":5.4},{"s":"83538","e":"Dy","v":4.8},{"s":"83538","e":"Y","v":4.2},{"s":"83538","e":"Ho","v":4.0},{"s":"83538","e":"Er","v":3.9},{"s":"83538","e":"Tm","v":3.7},{"s":"83538","e":"Yb","v":3.5},{"s":"83538","e":"Lu","v":3.35},{"s":"83538","e":"Al","v":2.1},{"s":"83538","e":"V","v":4.3},{"s":"83538","e":"Sc","v":2.3},
{"s":"MtS19","e":"Th","v":25.0},{"s":"MtS19","e":"U","v":34.9},{"s":"MtS19","e":"Nb","v":9.6},{"s":"MtS19","e":"La","v":16.6},{"s":"MtS19","e":"Ce","v":15.3},{"s":"MtS19","e":"Pr","v":12.6},{"s":"MtS19","e":"Nd","v":13.1},{"s":"MtS19","e":"Zr","v":11.1},{"s":"MtS19","e":"Hf","v":10.2},{"s":"MtS19","e":"Sm","v":11.0},{"s":"MtS19","e":"Eu","v":9.6},{"s":"MtS19","e":"Ti","v":11.0},{"s":"MtS19","e":"Gd","v":9.5},{"s":"MtS19","e":"Tb","v":10.0},{"s":"MtS19","e":"Dy","v":8.1},{"s":"MtS19","e":"Y","v":9.9},{"s":"MtS19","e":"Ho","v":8.4},{"s":"MtS19","e":"Er","v":9.0},{"s":"MtS19","e":"Tm","v":8.7},{"s":"MtS19","e":"Yb","v":8.0},{"s":"MtS19","e":"Lu","v":null},{"s":"MtS19","e":"Al","v":3.0},{"s":"MtS19","e":"V","v":8.2},{"s":"MtS19","e":"Sc","v":3.0},
{"s":"MS34","e":"Th","v":5.8},{"s":"MS34","e":"U","v":6.9},{"s":"MS34","e":"Nb","v":4.5},{"s":"MS34","e":"La","v":7.7},{"s":"MS34","e":"Ce","v":7.4},{"s":"MS34","e":"Pr","v":6.7},{"s":"MS34","e":"Nd","v":6.7},{"s":"MS34","e":"Zr","v":6.2},{"s":"MS34","e":"Hf","v":6.0},{"s":"MS34","e":"Sm","v":6.7},{"s":"MS34","e":"Eu","v":6.7},{"s":"MS34","e":"Ti","v":5.6},{"s":"MS34","e":"Gd","v":5.9},{"s":"MS34","e":"Tb","v":5.3},{"s":"MS34","e":"Dy","v":4.65},{"s":"MS34","e":"Y","v":4.4},{"s":"MS34","e":"Ho","v":4.4},{"s":"MS34","e":"Er","v":4.3},{"s":"MS34","e":"Tm","v":4.0},{"s":"MS34","e":"Yb","v":3.9},{"s":"MS34","e":"Lu","v":3.6},{"s":"MS34","e":"Al","v":2.0},{"s":"MS34","e":"V","v":4.3},{"s":"MS34","e":"Sc","v":2.45},
{"s":"MS38","e":"Th","v":6.9},{"s":"MS38","e":"U","v":7.4},{"s":"MS38","e":"Nb","v":2.8},{"s":"MS38","e":"La","v":6.7},{"s":"MS38","e":"Ce","v":5.4},{"s":"MS38","e":"Pr","v":5.0},{"s":"MS38","e":"Nd","v":5.0},{"s":"MS38","e":"Zr","v":3.6},{"s":"MS38","e":"Hf","v":3.75},{"s":"MS38","e":"Sm","v":4.5},{"s":"MS38","e":"Eu","v":4.8},{"s":"MS38","e":"Ti","v":3.5},{"s":"MS38","e":"Gd","v":5.2},{"s":"MS38","e":"Tb","v":5.0},{"s":"MS38","e":"Dy","v":3.9},{"s":"MS38","e":"Y","v":3.3},{"s":"MS38","e":"Ho","v":3.35},{"s":"MS38","e":"Er","v":3.35},{"s":"MS38","e":"Tm","v":3.5},{"s":"MS38","e":"Yb","v":2.8},{"s":"MS38","e":"Lu","v":2.65},{"s":"MS38","e":"Al","v":2.35},{"s":"MS38","e":"V","v":4.0},{"s":"MS38","e":"Sc","v":2.8},
{"s":"MS41","e":"Th","v":5.2},{"s":"MS41","e":"U","v":5.1},{"s":"MS41","e":"Nb","v":2.8},{"s":"MS41","e":"La","v":5.8},{"s":"MS41","e":"Ce","v":5.0},{"s":"MS41","e":"Pr","v":4.65},{"s":"MS41","e":"Nd","v":4.65},{"s":"MS41","e":"Zr","v":5.0},{"s":"MS41","e":"Hf","v":4.8},{"s":"MS41","e":"Sm","v":4.65},{"s":"MS41","e":"Eu","v":4.65},{"s":"MS41","e":"Ti","v":4.0},{"s":"MS41","e":"Gd","v":4.65},{"s":"MS41","e":"Tb","v":4.3},{"s":"MS41","e":"Dy","v":3.6},{"s":"MS41","e":"Y","v":3.2},{"s":"MS41","e":"Ho","v":3.1},{"s":"MS41","e":"Er","v":3.15},{"s":"MS41","e":"Tm","v":2.8},{"s":"MS41","e":"Yb","v":2.7},{"s":"MS41","e":"Lu","v":2.65},{"s":"MS41","e":"Al","v":2.1},{"s":"MS41","e":"V","v":3.75},{"s":"MS41","e":"Sc","v":1.85},
{"s":"MS44","e":"Th","v":3.45},{"s":"MS44","e":"U","v":3.9},{"s":"MS44","e":"Nb","v":2.3},{"s":"MS44","e":"La","v":5.1},{"s":"MS44","e":"Ce","v":4.4},{"s":"MS44","e":"Pr","v":3.8},{"s":"MS44","e":"Nd","v":3.8},{"s":"MS44","e":"Zr","v":3.1},{"s":"MS44","e":"Hf","v":3.05},{"s":"MS44","e":"Sm","v":3.75},{"s":"MS44","e":"Eu","v":3.5},{"s":"MS44","e":"Ti","v":3.1},{"s":"MS44","e":"Gd","v":3.45},{"s":"MS44","e":"Tb","v":3.5},{"s":"MS44","e":"Dy","v":3.15},{"s":"MS44","e":"Y","v":3.05},{"s":"MS44","e":"Ho","v":2.85},{"s":"MS44","e":"Er","v":3.1},{"s":"MS44","e":"Tm","v":2.65},{"s":"MS44","e":"Yb","v":2.4},{"s":"MS44","e":"Lu","v":2.55},{"s":"MS44","e":"Al","v":1.25},{"s":"MS44","e":"V","v":3.75},{"s":"MS44","e":"Sc","v":1.9},
{"s":"MS45","e":"Th","v":7.7},{"s":"MS45","e":"U","v":8.4},{"s":"MS45","e":"Nb","v":3.1},{"s":"MS45","e":"La","v":6.7},{"s":"MS45","e":"Ce","v":5.8},{"s":"MS45","e":"Pr","v":4.7},{"s":"MS45","e":"Nd","v":4.8},{"s":"MS45","e":"Zr","v":4.6},{"s":"MS45","e":"Hf","v":4.8},{"s":"MS45","e":"Sm","v":4.5},{"s":"MS45","e":"Eu","v":5.4},{"s":"MS45","e":"Ti","v":3.6},{"s":"MS45","e":"Gd","v":4.5},{"s":"MS45","e":"Tb","v":4.5},{"s":"MS45","e":"Dy","v":3.9},{"s":"MS45","e":"Y","v":4.2},{"s":"MS45","e":"Ho","v":4.3},{"s":"MS45","e":"Er","v":4.0},{"s":"MS45","e":"Tm","v":3.9},{"s":"MS45","e":"Yb","v":4.2},{"s":"MS45","e":"Lu","v":4.2},{"s":"MS45","e":"Al","v":3.1},{"s":"MS45","e":"V","v":4.3},{"s":"MS45","e":"Sc","v":2.8}
]
},
"vconcat": [
{
"width": 555, "height": 157,
"data": {"name": "G"},
"encoding": {
 "x": {"field": "e", "type": "nominal", "sort": null, "scale": {"type": "band", "domain": ["Th","U","Nb","La","Ce","Pr","Nd","Zr","Hf","Sm","Eu","Ti","Gd","Tb","Dy","Y","Ho","Er","Tm","Yb","Lu","Al","V","Sc"], "paddingInner": 0, "paddingOuter": 0}, "axis": {"title": "Upper Mafic Volcaniclastic Unit and Intercalated Flows", "titleX": 288, "titleY": -119, "titleAlign": "center", "titleBaseline": "middle", "titleFont": "Lato", "titleFontSize": 14.5, "titleFontWeight": "normal", "titleColor": "#333333", "labelAngle": 0, "tickBand": "extent", "tickSize": -5, "labelPadding": 13, "grid": false}},
 "y": {"field": "v", "type": "quantitative", "scale": {"type": "log", "domain": [1, 30], "nice": false}, "axis": {"title": "G", "titleAngle": 0, "titleX": 5, "titleY": 26, "titleAlign": "left", "titleBaseline": "middle", "titleFont": "Liberation Sans", "titleFontSize": 39, "titleFontWeight": "bold", "titleColor": "#000000", "values": [1,2,3,4,5,6,7,8,9,10,20], "labelExpr": "indexof([0.1,1,10,100], datum.value) >= 0 ? format(datum.value, '~g') : ''", "tickSize": -4, "labelPadding": 11, "gridOpacity": {"condition": {"test": "indexof([1,10], datum.value) >= 0", "value": 1}, "value": 0}}}
},
"layer": [
 {"mark": {"type": "line", "strokeWidth": 1.6, "point": {"filled": true, "size": 12}},
  "encoding": {"color": {"field": "s", "type": "nominal", "scale": {"domain": ["83548","83547","MS71","MS70","225004","225005"], "range": ["#FFC000","#A5A5A5","#4472C4","#70AD47","#5B9BD5","#ED7D31"]}, "legend": {"title": null, "columns": 3, "columnPadding": 41, "legendX": 96, "legendY": 127, "rowPadding": 0.2, "labelFontSize": 11, "symbolType": "M-2,0H2M-0.4,0.35L0,-0.4L0.4,0.35Z"}}, "order": {"value": null}}}
]
},
{
"width": 555, "height": 308,
"data": {"name": "H"},
"resolve": {"scale": {"color": "independent"}},
"encoding": {
 "x": {"field": "e", "type": "nominal", "sort": null, "scale": {"type": "band", "domain": ["Th","U","Nb","La","Ce","Pr","Nd","Zr","Hf","Sm","Eu","Ti","Gd","Tb","Dy","Y","Ho","Er","Tm","Yb","Lu","Al","V","Sc"], "paddingInner": 0, "paddingOuter": 0}, "axis": {"title": "Basalts and Gabbros", "titleX": 300, "titleY": -272, "titleAlign": "center", "titleBaseline": "middle", "titleFont": "Lato", "titleFontSize": 15, "titleFontWeight": "normal", "titleColor": "#333333", "labelAngle": 0, "tickBand": "extent", "tickSize": -5, "labelPadding": 13, "grid": false}},
 "y": {"field": "v", "type": "quantitative", "scale": {"type": "log", "domain": [0.1, 100], "nice": false}, "axis": {"title": "H", "titleAngle": 0, "titleX": 6, "titleY": 23, "titleAlign": "left", "titleBaseline": "middle", "titleFont": "Liberation Sans", "titleFontSize": 37, "titleFontWeight": "bold", "titleColor": "#000000", "values": [0.1,0.2,0.3,0.4,0.5,0.6,0.7,0.8,0.9,1,2,3,4,5,6,7,8,9,10,20,30,40,50,60,70,80,90,100], "labelExpr": "indexof([0.1,1,10,100], datum.value) >= 0 ? format(datum.value, '~g') : ''", "tickSize": -4, "labelPadding": 11, "gridOpacity": {"condition": {"test": "indexof([1,10], datum.value) >= 0", "value": 1}, "value": 0}}}
},
"layer": [
 {"transform": [{"filter": {"field": "s", "oneOf": ["MS48","MS46","83534","83545","MS52"]}}],
  "mark": {"type": "line", "strokeWidth": 1.5, "point": {"filled": true, "size": 14, "shape": "triangle-up"}},
  "encoding": {"color": {"field": "s", "type": "nominal", "scale": {"domain": ["MS48","MS46","83534","83545","MS52"], "range": ["#5B9BD5","#ED7D31","#ABA6C8","#FFC000","#4472C4"]}, "legend": {"title": null, "legendX": 155, "legendY": 215, "rowPadding": -0.5, "labelFontSize": 11, "symbolType": "M-2,0H2M-0.4,0.35L0,-0.4L0.4,0.35Z"}}, "order": {"value": null}}},
 {"transform": [{"filter": {"field": "s", "oneOf": ["MS54","MS55","MS56","83539","83540","83541"]}}],
  "mark": {"type": "line", "strokeWidth": 1.5, "point": {"filled": true, "size": 14, "shape": "triangle-up"}},
  "encoding": {"color": {"field": "s", "type": "nominal", "scale": {"domain": ["MS54","MS55","MS56","83539","83540","83541"], "range": ["#70AD47","#255E91","#9E480E","#636363","#997300","#1F3864"]}, "legend": {"title": null, "legendX": 221, "legendY": 213, "rowPadding": 0.8, "labelFontSize": 11, "symbolType": "M-2,0H2M-0.4,0.35L0,-0.4L0.4,0.35Z"}}, "order": {"value": null}}},
 {"transform": [{"filter": {"field": "s", "oneOf": ["MtS17","MtS15","211113","MtS13","MtS20"]}}],
  "mark": {"type": "line", "strokeWidth": 1.6, "point": {"filled": true, "size": 30, "shape": "square", "stroke": "#333", "strokeWidth": 0.8}},
  "encoding": {"color": {"field": "s", "type": "nominal", "scale": {"domain": ["MtS17","MtS15","211113","MtS13","MtS20"], "range": ["#ED7D31","#A5A5A5","#375623","#5B9BD5","#FFC000"]}, "legend": {"title": "Gabbros", "legendX": 291, "legendY": 211, "rowPadding": 1.6, "labelFontSize": 11, "symbolType": "M-2,0H-0.55M0.55,0H2M-0.55,-0.55H0.55V0.55H-0.55Z"}}, "order": {"value": null}}}
]
},
{
"width": 555, "height": 107,
"data": {"name": "I"},
"encoding": {
 "x": {"field": "e", "type": "nominal", "sort": null, "scale": {"type": "band", "domain": ["Th","U","Nb","La","Ce","Pr","Nd","Zr","Hf","Sm","Eu","Ti","Gd","Tb","Dy","Y","Ho","Er","Tm","Yb","Lu","Al","V","Sc"], "paddingInner": 0, "paddingOuter": 0}, "axis": {"title": "Ultramafic Agglomerate", "titleX": 260, "titleY": -92, "titleAlign": "center", "titleBaseline": "middle", "titleFont": "Lato", "titleFontSize": 15, "titleFontWeight": "normal", "titleColor": "#333333", "labelAngle": 0, "tickBand": "extent", "tickSize": -5, "labelPadding": 13, "grid": false}},
 "y": {"field": "v", "type": "quantitative", "scale": {"type": "log", "domain": [1, 10], "nice": false}, "axis": {"title": "I", "titleAngle": 0, "titleX": 21, "titleY": 21, "titleAlign": "left", "titleBaseline": "middle", "titleFont": "Liberation Sans", "titleFontSize": 38, "titleFontWeight": "bold", "titleColor": "#000000", "values": [1,2,3,4,5,6,7,8,9,10], "labelExpr": "indexof([0.1,1,10,100], datum.value) >= 0 ? format(datum.value, '~g') : ''", "tickSize": -4, "labelPadding": 11, "grid": false}}
},
"layer": [
 {"mark": {"type": "line", "strokeWidth": 1.6, "point": {"filled": true, "size": 12}},
  "encoding": {"color": {"field": "s", "type": "nominal", "scale": {"domain": ["MtS18A","MtS18B","MtS22A","MtS22B"], "range": ["#4472C4","#ED7D31","#A5A5A5","#FFC000"]}, "legend": {"title": null, "legendX": 479, "legendY": 25, "rowPadding": 0.2, "labelFontSize": 11, "symbolType": "M-2,0H2M-0.4,0.35L0,-0.4L0.4,0.35Z"}}, "order": {"value": null}}}
]
},
{
"width": 555, "height": 321,
"data": {"name": "J"},
"resolve": {"scale": {"color": "independent"}},
"encoding": {
 "x": {"field": "e", "type": "nominal", "sort": null, "scale": {"type": "band", "domain": ["Th","U","Nb","La","Ce","Pr","Nd","Zr","Hf","Sm","Eu","Ti","Gd","Tb","Dy","Y","Ho","Er","Tm","Yb","Lu","Al","V","Sc"], "paddingInner": 0, "paddingOuter": 0}, "axis": {"title": "Lower Boninitic and Basaltic Units", "titleX": 256, "titleY": -264, "titleAlign": "center", "titleBaseline": "middle", "titleFont": "Lato", "titleFontSize": 14.5, "titleFontWeight": "normal", "titleColor": "#333333", "labelAngle": 0, "tickBand": "extent", "tickSize": -5, "labelPadding": 13, "grid": false}},
 "y": {"field": "v", "type": "quantitative", "scale": {"type": "log", "domain": [0.1, 100], "nice": false}, "axis": {"title": "J", "titleAngle": 0, "titleX": 12, "titleY": 27, "titleAlign": "left", "titleBaseline": "middle", "titleFont": "Liberation Sans", "titleFontSize": 38, "titleFontWeight": "bold", "titleColor": "#000000", "values": [0.1,0.2,0.3,0.4,0.5,0.6,0.7,0.8,0.9,1,2,3,4,5,6,7,8,9,10,20,30,40,50,60,70,80,90,100], "labelExpr": "indexof([0.1,1,10,100], datum.value) >= 0 ? format(datum.value, '~g') : ''", "tickSize": -4, "labelPadding": 11, "gridOpacity": {"condition": {"test": "indexof([1,10], datum.value) >= 0", "value": 1}, "value": 0}}}
},
"layer": [
 {"transform": [{"filter": {"field": "s", "oneOf": ["Margi","MS30","Ms32","MS72","MS75","MS77"]}}],
  "mark": {"type": "line", "strokeWidth": 1.5, "point": {"filled": true, "size": 12}},
  "encoding": {"color": {"field": "s", "type": "nominal", "scale": {"domain": ["Margi","MS30","Ms32","MS72","MS75","MS77"], "range": ["#7030A0","#7F93C9","#BFBFBF","#F4B183","#70AD47","#4472C4"]}, "legend": {"title": null, "legendX": 98, "legendY": 246, "labelFontSize": 10, "rowPadding": -0.3, "symbolType": "M-2,0H2M-0.4,0.35L0,-0.4L0.4,0.35Z"}}, "order": {"value": null}}},
 {"transform": [{"filter": {"field": "s", "oneOf": ["MS74","MS78","83537","207681"]}}],
  "mark": {"type": "line", "strokeWidth": 1.5, "point": {"filled": true, "size": 12}},
  "encoding": {"color": {"field": "s", "type": "nominal", "scale": {"domain": ["MS74","MS78","83537","207681"], "range": ["#264478","#C9C9C9","#203864","#5B9BD5"]}, "legend": {"title": null, "legendX": 152, "legendY": 261, "labelFontSize": 10, "rowPadding": -1, "symbolType": "M-2,0H2M-0.4,0.35L0,-0.4L0.4,0.35Z"}}, "order": {"value": null}}},
 {"transform": [{"filter": {"field": "s", "oneOf": ["83531","83532","83533","83536","83538","MtS19"]}}],
  "mark": {"type": "line", "strokeWidth": 1.5, "point": {"filled": true, "size": 12}},
  "encoding": {"color": {"field": "s", "type": "nominal", "scale": {"domain": ["83531","83532","83533","83536","83538","MtS19"], "range": ["#A9D18E","#2E75B6","#F4A15D","#C55A11","#43682B","#7F7F7F"]}, "legend": {"title": null, "legendX": 219, "legendY": 253, "labelFontSize": 10, "rowPadding": -0.5, "symbolType": "M-2,0H2M-0.4,0.35L0,-0.4L0.4,0.35Z"}}, "order": {"value": null}}},
 {"transform": [{"filter": {"field": "s", "oneOf": ["MS34","MS38","MS41","MS44","MS45"]}}],
  "mark": {"type": "line", "strokeWidth": 1.6, "point": {"filled": true, "size": 28, "stroke": "#333", "strokeWidth": 0.8}},
  "encoding": {"color": {"field": "s", "type": "nominal", "scale": {"domain": ["MS34","MS38","MS41","MS44","MS45"], "range": ["#FFC000","#404040","#9E480E","#7F6000","#9DC3E6"]}, "legend": {"title": null, "legendX": 291, "legendY": 251, "labelFontSize": 10, "rowPadding": 1.0, "symbolType": "M-2,0H-0.55M0.55,0H2M-0.55,-0.55H0.55V0.55H-0.55Z"}},
   "shape": {"field": "s", "type": "nominal", "scale": {"domain": ["MS34","MS38","MS41","MS44","MS45"], "range": ["square","square","circle","square","square"]}, "legend": null},
   "order": {"value": null}}}
]
}
],
"config": {
 "font": "Lato",
 "view": {"stroke": "#a0a0a0", "strokeWidth": 1},
 "axis": {"labelFont": "Lato", "labelFontSize": 13, "labelColor": "#404040", "tickColor": "#808080", "tickWidth": 1, "gridColor": "#d9d9d9", "domain": false},
 "legend": {"orient": "none", "labelFont": "Lato", "labelFontSize": 10.5, "labelColor": "#333333", "symbolSize": 100, "symbolStrokeWidth": 1.6, "labelOffset": 1, "padding": 0, "titleFont": "Lato", "titleFontSize": 13, "titleFontWeight": "normal", "titleColor": "#333333", "titlePadding": 3}
}
}
